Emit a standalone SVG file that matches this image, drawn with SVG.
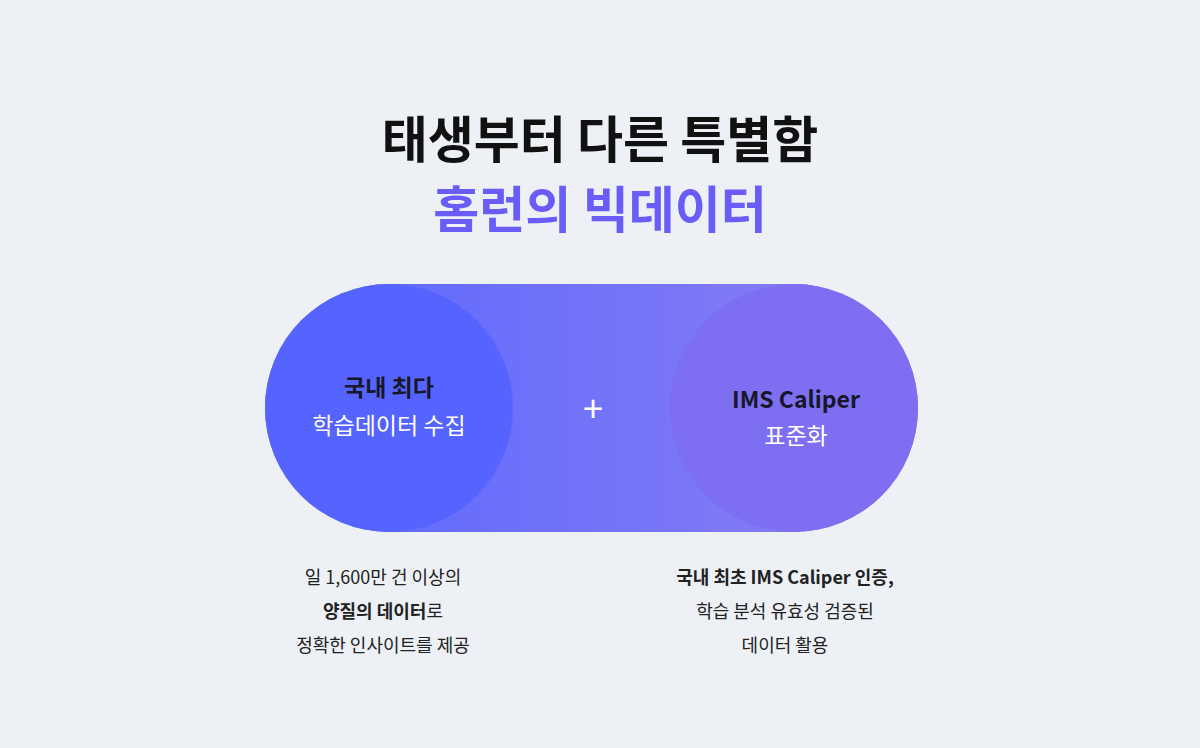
<svg xmlns="http://www.w3.org/2000/svg" width="1200" height="748" viewBox="0 0 1200 748">
<style>
text{font-family:"Noto Sans CJK KR","Noto Sans",sans-serif;text-anchor:middle}
.t{font-size:50px;font-weight:700}
.d{font-size:23px;font-weight:700;fill:#16182a}
.w{font-size:23px;fill:#fff}
.s{font-size:18px;fill:#222}
.b{font-weight:700}
</style>
<defs><linearGradient id="g" x1="0" x2="1"><stop offset="0" stop-color="#5a66ff"/><stop offset="1" stop-color="#8b80f2"/></linearGradient></defs>
<rect width="1200" height="748" fill="#edf1f5"/>
<g id="title"><text class="t" x="600" y="158" fill="#111">태생부터 다른 특별함</text>
<text class="t" x="600" y="228" fill="#6a5cf6">홈런의 빅데이터</text></g>
<g id="pill"><rect x="265" y="284" width="653" height="248" rx="124" fill="url(#g)"/></g>
<g id="left"><circle cx="389" cy="408" r="124" fill="#5564ff"/>
<text class="d" x="389" y="396">국내 최다</text><text class="w" x="389" y="434">학습데이터 수집</text></g>
<g id="plus"><text x="593" y="422" font-size="36" fill="#fff">+</text></g>
<g id="right"><circle cx="794" cy="408" r="124" fill="#7d6ef2"/>
<text class="d" x="796" y="408" font-size="26">IMS Caliper</text><text class="w" x="796" y="444">표준화</text></g>
<g id="ldesc"><text class="s" x="383" y="584">일 1,600만 건 이상의</text>
<text class="s" x="383" y="618"><tspan class="b">양질의 데이터</tspan>로</text>
<text class="s" x="383" y="652">정확한 인사이트를 제공</text></g>
<g id="rdesc"><text class="s b" x="785" y="584">국내 최초 IMS Caliper 인증,</text>
<text class="s" x="785" y="618">학습 분석 유효성 검증된</text>
<text class="s" x="785" y="652">데이터 활용</text></g>
<g id="connectors"/>
</svg>
